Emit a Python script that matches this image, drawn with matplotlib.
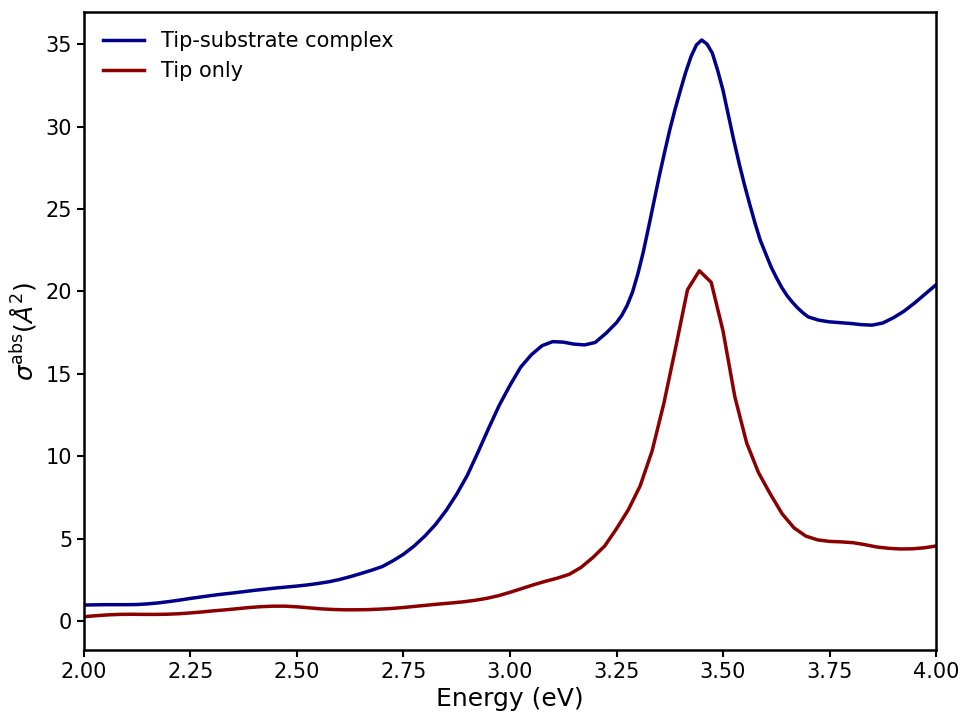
import numpy as np
import matplotlib
matplotlib.use("Agg")
import matplotlib.pyplot as plt

# Absorption cross section vs photon energy.
# The complex spectrum is sampled more densely around the main peak.
energy_complex = np.concatenate([
    np.linspace(2.0, 3.225, 50),
    np.linspace(3.25, 3.6875, 36),
    np.linspace(3.70, 4.0, 13),
])
sigma_complex = [
    # 2.000 - 3.225
    0.97, 0.98, 0.99, 0.99, 0.99, 1.00, 1.04, 1.10, 1.18, 1.27,
    1.37, 1.46, 1.55, 1.63, 1.70, 1.78, 1.86, 1.93, 2.00, 2.06,
    2.12, 2.19, 2.28, 2.38, 2.52, 2.69, 2.88, 3.08, 3.30, 3.65,
    4.05, 4.55, 5.15, 5.85, 6.70, 7.70, 8.85, 10.25, 11.7, 13.1,
    14.3, 15.4, 16.15, 16.7, 16.95, 16.92, 16.8, 16.75, 16.9, 17.45,
    # 3.2500 - 3.6875
    18.1, 18.55, 19.15, 19.95, 21.05, 22.35, 23.85, 25.4, 26.95, 28.4,
    29.8, 31.05, 32.2, 33.3, 34.25, 34.95, 35.25, 35.0, 34.45, 33.4,
    32.2, 30.7, 29.2, 27.8, 26.5, 25.3, 24.15, 23.1, 22.3, 21.5,
    20.85, 20.25, 19.75, 19.35, 19.0, 18.7,
    # 3.700 - 4.000
    18.45, 18.25, 18.15, 18.1, 18.05, 17.98, 17.95, 18.08, 18.4, 18.8,
    19.3, 19.85, 20.4,
]

energy_tip = np.linspace(2.0, 4.0, 73)
sigma_tip = [
    0.26, 0.32, 0.37, 0.40, 0.41, 0.40, 0.40, 0.41, 0.44, 0.49,
    0.55, 0.62, 0.68, 0.75, 0.82, 0.87, 0.90, 0.90, 0.86, 0.80,
    0.74, 0.70, 0.68, 0.68, 0.69, 0.72, 0.76, 0.82, 0.89, 0.96,
    1.03, 1.09, 1.16, 1.25, 1.37, 1.53, 1.74, 1.97, 2.20, 2.41,
    2.60, 2.83, 3.25, 3.85, 4.55, 5.60, 6.75, 8.20, 10.3, 13.2,
    16.6, 20.1, 21.25, 20.55, 17.6, 13.6, 10.8, 9.0, 7.7, 6.5,
    5.65, 5.15, 4.92, 4.83, 4.80, 4.75, 4.63, 4.49, 4.41, 4.37,
    4.38, 4.44, 4.55,
]

fig, ax = plt.subplots(figsize=(9.62, 7.15), dpi=100)
fig.subplots_adjust(left=0.0873, right=0.973, top=0.983, bottom=0.0909)

ax.plot(energy_complex, sigma_complex, color="#00008B", lw=2.5, label="Tip-substrate complex")
ax.plot(energy_tip, sigma_tip, color="#8B0000", lw=2.5, label="Tip only")

ax.set_xlim(2.0, 4.0)
ax.set_ylim(-1.76, 36.94)
ax.set_xticks(np.arange(2.0, 4.01, 0.25))
ax.set_yticks(np.arange(0, 36, 5))
ax.xaxis.set_major_formatter(matplotlib.ticker.FormatStrFormatter("%.2f"))

ax.set_xlabel("Energy (eV)", fontsize=18)
ax.set_ylabel(r"$\sigma^{\mathrm{abs}}(Å^2)$", fontsize=18)
ax.tick_params(labelsize=15, width=1.5, length=5)
for s in ax.spines.values():
    s.set_linewidth(1.8)

ax.legend(loc="upper left", frameon=False, fontsize=15)

fig.savefig("out.png", dpi=100)
